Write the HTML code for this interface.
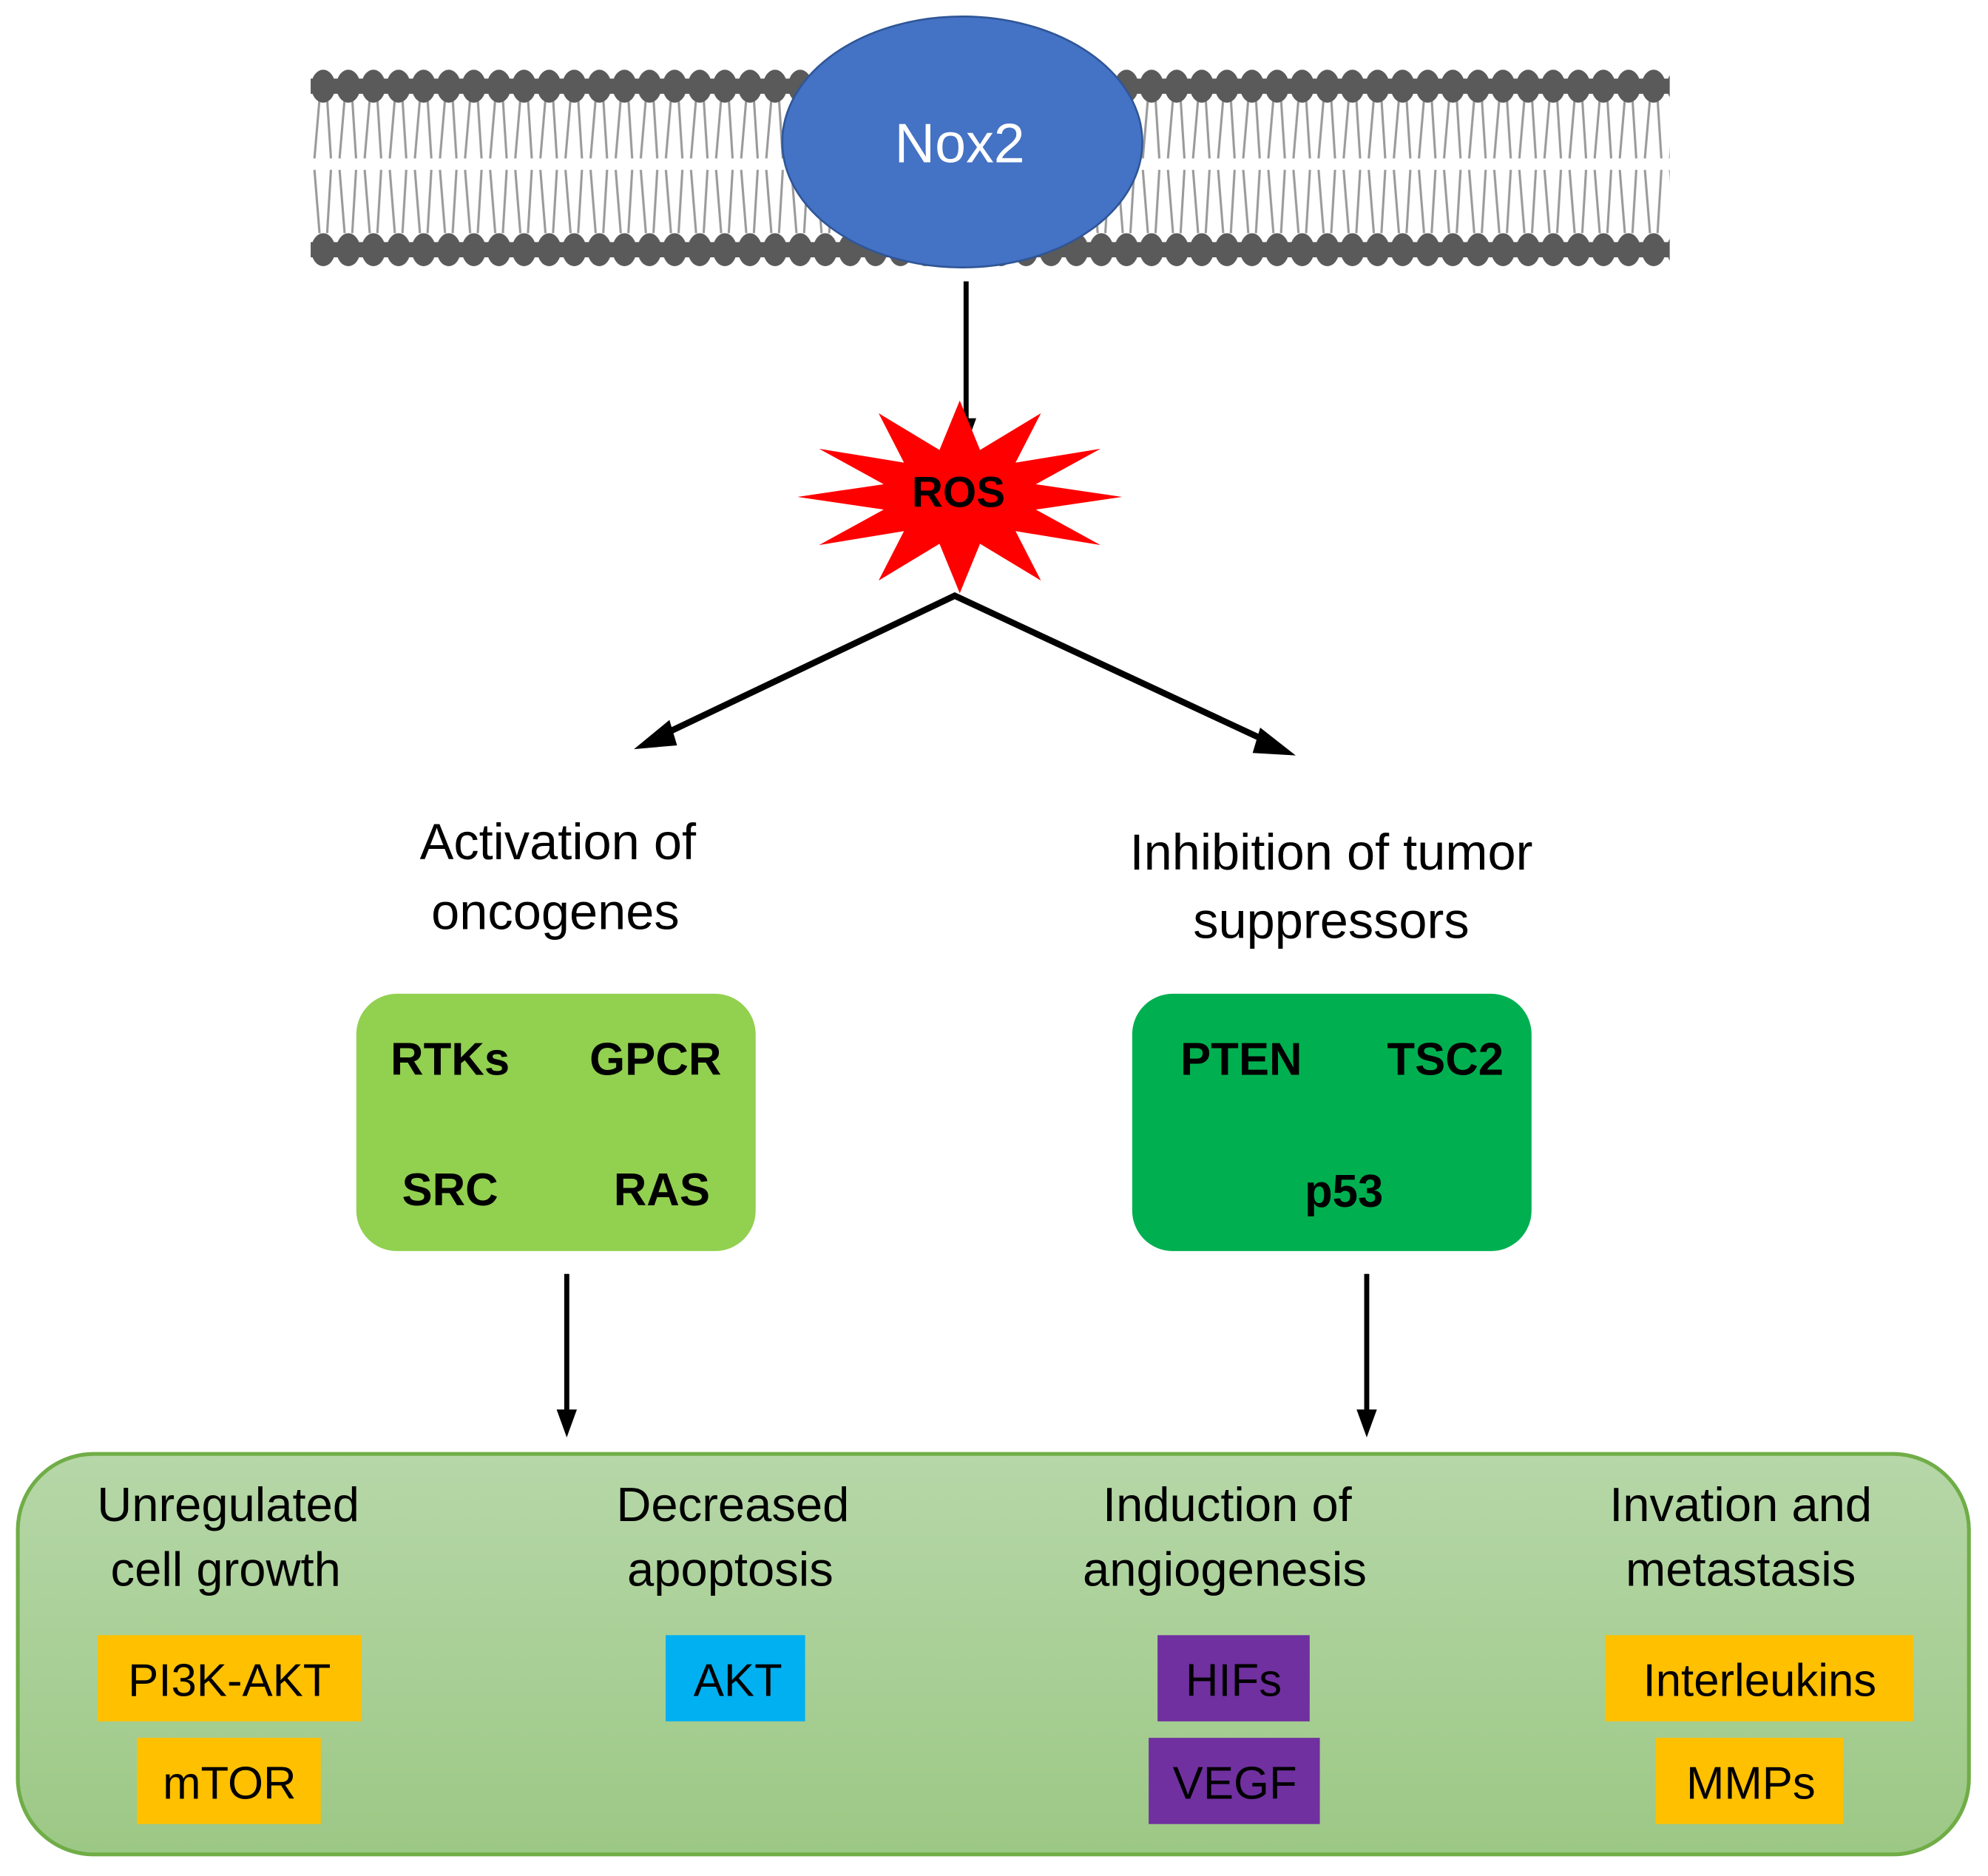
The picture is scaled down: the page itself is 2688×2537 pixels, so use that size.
<!DOCTYPE html>
<html><head><meta charset="utf-8"><style>
html,body{margin:0;padding:0;background:#fff;}
svg{display:block;}
text{font-family:"Liberation Sans",sans-serif;}
</style></head><body>
<svg width="2688" height="2537" viewBox="0 0 1568 1480" xmlns="http://www.w3.org/2000/svg">
<defs>
<pattern id="lip" x="245" y="0" width="19.8" height="1480" patternUnits="userSpaceOnUse">
<rect x="0" y="62" width="19.8" height="12" fill="#5a5a5a"/>
<rect x="0" y="191" width="19.8" height="12" fill="#5a5a5a"/>
<g stroke="#9a9a9a" stroke-width="1.8" fill="none">
<line x1="7" y1="78" x2="3" y2="125"/><line x1="13" y1="78" x2="16" y2="125"/>
<line x1="3" y1="134" x2="7" y2="184"/><line x1="16" y1="134" x2="13" y2="184"/>
</g>
<ellipse cx="9.9" cy="68" rx="9.5" ry="13" fill="#5a5a5a"/>
<ellipse cx="9.9" cy="197" rx="9.5" ry="13" fill="#5a5a5a"/>
</pattern>
<linearGradient id="bg" x1="0" y1="0" x2="0" y2="1">
<stop offset="0" stop-color="#b6d7a8"/><stop offset="1" stop-color="#9cc885"/>
</linearGradient>
</defs>
<rect x="245" y="50" width="1072" height="165" fill="url(#lip)"/>
<ellipse cx="759" cy="112" rx="142" ry="99" fill="#4472C4" stroke="#2F5597" stroke-width="1.5"/>
<text x="757" y="128" font-size="44" fill="#fff" text-anchor="middle">Nox2</text>

<line x1="762" y1="222" x2="762" y2="334" stroke="#000" stroke-width="4"/>
<polygon points="754,330 770,330 762,352" fill="#000"/>

<polygon fill="#ff0000" points="885,392 817,402 868,430 801,419 821,458 773,429 757,468 741,429 693,458 713,419 646,430 697,402 629,392 697,382 646,354 713,365 693,326 741,355 757,316 773,355 821,326 801,365 868,354 817,382"/>
<text x="756" y="400" font-size="34" font-weight="bold" text-anchor="middle">ROS</text>

<g stroke="#000" stroke-width="5" fill="none">
<polyline points="520,581 753,470 1002,586"/>
</g>
<polygon points="500,591 528,568 534,588" fill="#000"/>
<polygon points="1022,596 994,574 988,594" fill="#000"/>

<text x="440" y="678" font-size="40" text-anchor="middle">Activation of</text>
<text x="438" y="733" font-size="40" text-anchor="middle">oncogenes</text>
<text x="1050" y="686" font-size="40" text-anchor="middle">Inhibition of tumor</text>
<text x="1050" y="740" font-size="40" text-anchor="middle">suppressors</text>

<rect x="281" y="784" width="315" height="203" rx="32" fill="#92D050"/>
<g font-size="36" font-weight="bold" text-anchor="middle">
<text x="355" y="848">RTKs</text><text x="517" y="848">GPCR</text>
<text x="355" y="951">SRC</text><text x="522" y="951">RAS</text>
</g>
<rect x="893" y="784" width="315" height="203" rx="32" fill="#00B050"/>
<g font-size="36" font-weight="bold" text-anchor="middle">
<text x="979" y="848">PTEN</text><text x="1140" y="848">TSC2</text>
<text x="1060" y="952">p53</text>
</g>

<line x1="447" y1="1005" x2="447" y2="1115" stroke="#000" stroke-width="4"/>
<polygon points="439,1112 455,1112 447,1134" fill="#000"/>
<line x1="1078" y1="1005" x2="1078" y2="1115" stroke="#000" stroke-width="4"/>
<polygon points="1070,1112 1086,1112 1078,1134" fill="#000"/>

<rect x="14" y="1147" width="1539" height="316" rx="60" fill="url(#bg)" stroke="#70AD47" stroke-width="3"/>
<g font-size="38" text-anchor="middle">
<text x="180" y="1200">Unregulated</text><text x="178" y="1251">cell growth</text>
<text x="578" y="1200">Decreased</text><text x="576" y="1251">apoptosis</text>
<text x="968" y="1200">Induction of</text><text x="966" y="1251">angiogenesis</text>
<text x="1373" y="1200">Invation and</text><text x="1373" y="1251">metastasis</text>
</g>
<rect x="77" y="1290" width="208" height="68" fill="#FFC000"/>
<rect x="108" y="1371" width="145" height="68" fill="#FFC000"/>
<rect x="525" y="1290" width="110" height="68" fill="#00B0F0"/>
<rect x="913" y="1290" width="120" height="68" fill="#7030A0"/>
<rect x="906" y="1371" width="135" height="68" fill="#7030A0"/>
<rect x="1266" y="1290" width="243" height="68" fill="#FFC000"/>
<rect x="1306" y="1371" width="148" height="68" fill="#FFC000"/>
<g font-size="36" text-anchor="middle">
<text x="181" y="1338">PI3K-AKT</text>
<text x="181" y="1419">mTOR</text>
<text x="582" y="1338">AKT</text>
<text x="973" y="1338">HIFs</text>
<text x="974" y="1419">VEGF</text>
<text x="1388" y="1338">Interleukins</text>
<text x="1381" y="1419">MMPs</text>
</g>
</svg>
</body></html>
